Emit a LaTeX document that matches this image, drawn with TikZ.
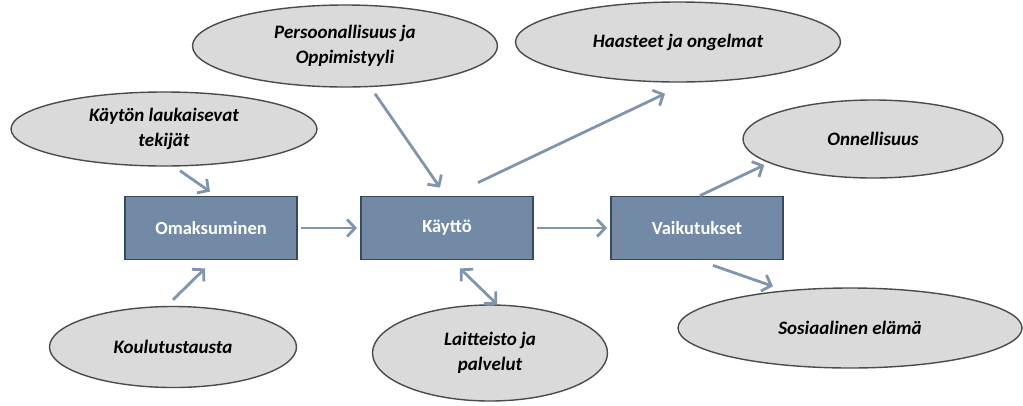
\documentclass[tikz,border=0pt]{standalone}
\usepackage{fontspec}
\setmainfont{Carlito}
\usepackage{xcolor}
\usetikzlibrary{shapes.geometric,arrows.meta}

\definecolor{boxfill}{RGB}{114,138,166}
\definecolor{boxline}{RGB}{58,72,92}
\definecolor{ovalfill}{RGB}{218,218,218}
\definecolor{ovalline}{RGB}{75,75,75}
\definecolor{arrowcol}{RGB}{128,149,173}

\begin{document}
\begin{tikzpicture}[
  x=1pt, y=-1pt,
  phase/.style = {draw=boxline, line width=1.8pt, fill=boxfill, text=white,
                  font=\fontsize{18.5}{22}\selectfont\bfseries,
                  minimum width=172pt, minimum height=63pt, inner sep=0pt},
  oval/.style  = {ellipse, draw=ovalline, line width=1.4pt, fill=ovalfill,
                  align=center, inner sep=0pt,
                  font=\fontsize{19}{25}\selectfont\bfseries\itshape},
  ar/.style    = {draw=arrowcol, line width=2.8pt,
                  -{Straight Barb[length=8pt,width=17pt]}},
  arr/.style   = {ar, {Straight Barb[length=8pt,width=17pt]}-{Straight Barb[length=8pt,width=17pt]}}
]
\useasboundingbox (0,0) rectangle (1023,405);

% ---- main chain -----------------------------------------------------------
\node[phase] (omak) at (211,228) {Omaksuminen};
\node[phase] (kayt) at (447,228) {Käyttö};
\node[phase] (vaik) at (697,228) {Vaikutukset};

\draw[ar, shorten <=3pt, shorten >=3pt] (omak.east) -- (kayt.west);
\draw[ar, shorten <=3pt, shorten >=3pt] (kayt.east) -- (vaik.west);

% ---- factors around the chain ---------------------------------------------
\node[oval, minimum width=306pt, minimum height=74pt] (lauk) at (164,129)
  {Käytön laukaisevat\\tekijät};
\node[oval, minimum width=247pt, minimum height=81pt] (koul) at (173,347)
  {Koulutustausta};
\node[oval, minimum width=305pt, minimum height=82pt] (pers) at (345,46)
  {Persoonallisuus ja\\Oppimistyyli};
\node[oval, minimum width=325pt, minimum height=80pt] (haas) at (678,42)
  {Haasteet ja ongelmat};
\node[oval, minimum width=235pt, minimum height=96pt] (lait) at (490,353)
  {Laitteisto ja\\palvelut};
\node[oval, minimum width=260pt, minimum height=78pt] (onne) at (873,139)
  {Onnellisuus};
\node[oval, minimum width=344pt, minimum height=80pt] (sosi) at (850,328)
  {Sosiaalinen elämä};

% ---- connectors -----------------------------------------------------------
\draw[ar] ([xshift=16pt,yshift=-4pt]lauk.south) -- ([xshift=-1pt,yshift=4pt]omak.north);
\draw[ar] ([yshift=6pt]koul.north) -- ([xshift=-6pt,yshift=-8pt]omak.south);
\draw[ar] ([xshift=30pt,yshift=-6pt]pers.south) -- ([xshift=-7pt,yshift=8pt]kayt.north);
\draw[ar] ([xshift=31pt,yshift=13pt]kayt.north) -- ([xshift=-13pt,yshift=-11pt]haas.south);
\draw[arr] ([xshift=13pt,yshift=-8pt]kayt.south) -- ([xshift=7pt]lait.north);
\draw[ar] ([xshift=3pt]vaik.north) -- ([xshift=22pt,yshift=-26pt]onne.west);
\draw[ar] ([xshift=16pt,yshift=-5pt]vaik.south) -- ([xshift=-77pt,yshift=1pt]sosi.north);

\end{tikzpicture}
\end{document}
